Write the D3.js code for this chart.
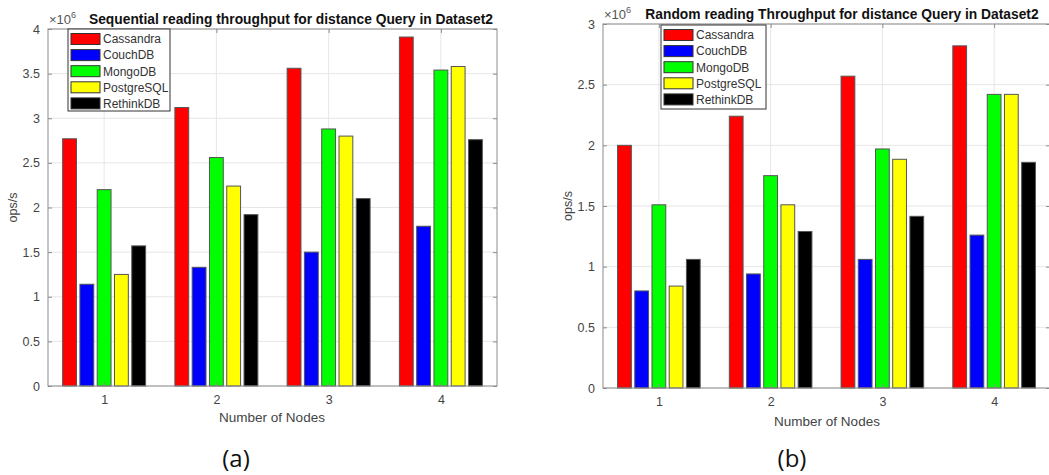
<!DOCTYPE html>
<html>
<head>
<meta charset="utf-8">
<script src="https://cdn.jsdelivr.net/npm/d3@7"></script>
<style>
  html, body { margin: 0; padding: 0; background: #fff; }
  svg { display: block; font-family: "Liberation Sans", Arial, sans-serif; }
</style>
</head>
<body>
<svg id="chart" width="1049" height="475"></svg>
<script>
// ---- data ----
const nodes = [1, 2, 3, 4];
const seriesNames = ["Cassandra", "CouchDB", "MongoDB", "PostgreSQL", "RethinkDB"];
const seriesColors = ["#ff0000", "#0000ff", "#00ff00", "#ffff00", "#000000"];

// Sequential reading (x10^6 ops/s)
const seqCassandra  = [2.77, 3.12, 3.56, 3.91];
const seqCouchDB    = [1.14, 1.33, 1.50, 1.79];
const seqMongoDB    = [2.20, 2.56, 2.88, 3.54];
const seqPostgreSQL = [1.25, 2.24, 2.80, 3.58];
const seqRethinkDB  = [1.57, 1.92, 2.10, 2.76];

// Random reading (x10^6 ops/s)
const rndCassandra  = [2.00, 2.24, 2.57, 2.82];
const rndCouchDB    = [0.80, 0.94, 1.06, 1.26];
const rndMongoDB    = [1.51, 1.75, 1.97, 2.42];
const rndPostgreSQL = [0.84, 1.51, 1.885, 2.42];
const rndRethinkDB  = [1.06, 1.29, 1.415, 1.86];

const seqTicks = [0, 0.5, 1, 1.5, 2, 2.5, 3, 3.5, 4];
const rndTicks = [0, 0.5, 1, 1.5, 2, 2.5, 3];

const seqSeries = [seqCassandra, seqCouchDB, seqMongoDB, seqPostgreSQL, seqRethinkDB];
const rndSeries = [rndCassandra, rndCouchDB, rndMongoDB, rndPostgreSQL, rndRethinkDB];

const svg = d3.select("#chart");
const SANS = "Liberation Sans, Arial, sans-serif";

function drawPanel(cfg) {
  const g = svg.append("g");
  const x = d3.scaleLinear().domain([0.5, 4.5]).range([cfg.left, cfg.right]);
  const y = d3.scaleLinear().domain([0, cfg.ymax]).range([cfg.bottom, cfg.top]);
  const off = d3.scaleBand().domain(seriesNames).range([-0.385, 0.385]).paddingInner(0.2).paddingOuter(0.1);
  const unit = x(1) - x(0);

  // grid
  g.append("g").selectAll("line").data(cfg.ticks).join("line")
    .attr("x1", cfg.left).attr("x2", cfg.right)
    .attr("y1", d => y(d)).attr("y2", d => y(d))
    .attr("stroke", "#e6e6e6").attr("stroke-width", 1);
  g.append("g").selectAll("line").data(nodes).join("line")
    .attr("x1", d => x(d)).attr("x2", d => x(d))
    .attr("y1", cfg.top).attr("y2", cfg.bottom)
    .attr("stroke", "#e6e6e6").attr("stroke-width", 1);

  // bars
  const rows = [];
  cfg.series.forEach((vals, si) => {
    vals.forEach((v, ni) => rows.push({ s: seriesNames[si], c: seriesColors[si], n: nodes[ni], v }));
  });
  g.append("g").selectAll("rect").data(rows).join("rect")
    .attr("x", d => x(d.n + off(d.s)))
    .attr("width", off.bandwidth() * unit)
    .attr("y", d => y(d.v))
    .attr("height", d => y(0) - y(d.v))
    .attr("fill", d => d.c)
    .attr("stroke", "#555").attr("stroke-width", 1);

  // axes box
  g.append("rect").attr("x", cfg.left).attr("y", cfg.top)
    .attr("width", cfg.right - cfg.left).attr("height", cfg.bottom - cfg.top)
    .attr("fill", "none").attr("stroke", "#8c8c8c").attr("stroke-width", 1);

  const yAxis = d3.axisLeft(y).tickValues(cfg.ticks).tickFormat(d3.format("")).tickSize(-4).tickPadding(8);
  const ya = g.append("g").attr("transform", `translate(${cfg.left},0)`).call(yAxis);
  ya.select(".domain").remove();
  ya.selectAll("line").attr("stroke", "#8c8c8c");
  ya.selectAll("text").attr("fill", "#444").style("font-size", "12.5px").style("font-family", SANS);
  const yAxisR = d3.axisRight(y).tickValues(cfg.ticks).tickSize(-4).tickFormat("");
  const yr = g.append("g").attr("transform", `translate(${cfg.right},0)`).call(yAxisR);
  yr.select(".domain").remove();
  yr.selectAll("line").attr("stroke", "#8c8c8c");

  const xAxis = d3.axisBottom(x).tickValues(nodes).tickFormat(d3.format("d")).tickSize(-4).tickPadding(9);
  const xa = g.append("g").attr("transform", `translate(0,${cfg.bottom})`).call(xAxis);
  xa.select(".domain").remove();
  xa.selectAll("line").attr("stroke", "#8c8c8c");
  xa.selectAll("text").attr("fill", "#444").style("font-size", "12.5px").style("font-family", SANS);
  const xAxisT = d3.axisTop(x).tickValues(nodes).tickSize(-4).tickFormat("");
  const xt = g.append("g").attr("transform", `translate(0,${cfg.top})`).call(xAxisT);
  xt.select(".domain").remove();
  xt.selectAll("line").attr("stroke", "#8c8c8c");

  // exponent
  const ex = g.append("text").attr("x", cfg.left + 1).attr("y", cfg.top - 5)
    .attr("fill", "#555").style("font-size", "13px");
  ex.append("tspan").text("\u00d710");
  ex.append("tspan").attr("dy", -6).style("font-size", "9px").text("6");

  // title
  g.append("text").attr("x", cfg.titleX).attr("y", cfg.top - 5)
    .attr("text-anchor", "middle").attr("font-weight", "bold").style("font-size", "13.8px")
    .attr("fill", "#111").text(cfg.title);

  // y label
  g.append("text").attr("transform", `translate(${cfg.ylabX},${(cfg.top + cfg.bottom) / 2}) rotate(-90)`)
    .attr("text-anchor", "middle").attr("fill", "#444").style("font-size", "12.5px").text("ops/s");

  // x label
  g.append("text").attr("x", cfg.xlabX).attr("y", cfg.xlabY)
    .attr("text-anchor", "middle").attr("fill", "#444").style("font-size", "13.5px").text("Number of Nodes");

  // panel caption
  g.append("text").attr("x", cfg.capX).attr("y", 467)
    .attr("text-anchor", "middle").attr("fill", "#111")
    .style("font-size", "24px").style("font-family", "Open Sans, Noto Sans, sans-serif").text(cfg.caption);

  // legend
  const L = cfg.legend;
  const lg = g.append("g");
  lg.append("rect").attr("x", L.x).attr("y", L.y).attr("width", L.w).attr("height", L.h)
    .attr("fill", "#fff").attr("stroke", "#333").attr("stroke-width", 1);
  seriesNames.forEach((name, i) => {
    const cy = L.y + 10 + i * 16.1;
    lg.append("rect").attr("x", L.x + 3).attr("y", cy - 5.5).attr("width", 29).attr("height", 11)
      .attr("fill", seriesColors[i]).attr("stroke", "#333").attr("stroke-width", 1);
    lg.append("text").attr("x", L.x + 35).attr("y", cy + 4.3)
      .attr("fill", "#333").style("font-size", "12px").text(name);
  });
}

drawPanel({
  left: 48, right: 497, top: 29, bottom: 386, ymax: 4, ticks: seqTicks, series: seqSeries,
  title: "Sequential reading throughput for distance Query in Dataset2", titleX: 291,
  ylabX: 17, xlabX: 272, xlabY: 422, capX: 236, caption: "(a)",
  legend: { x: 68, y: 29, w: 102, h: 82 }
});

drawPanel({
  left: 603, right: 1050, top: 24, bottom: 388, ymax: 3, ticks: rndTicks, series: rndSeries,
  title: "Random reading Throughput for distance Query in Dataset2", titleX: 842,
  ylabX: 572, xlabX: 827, xlabY: 426, capX: 792, caption: "(b)",
  legend: { x: 661, y: 25, w: 105, h: 84 }
});
</script>
</body>
</html>
